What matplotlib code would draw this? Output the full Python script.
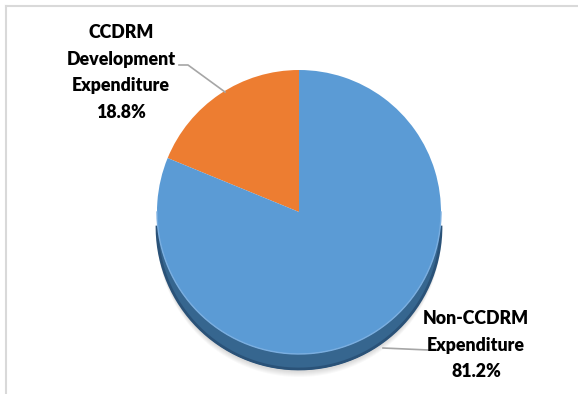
import numpy as np
import matplotlib
matplotlib.use("Agg")
import matplotlib.pyplot as plt
from matplotlib.lines import Line2D

# spending split
labels = ["CCDRM\nDevelopment\nExpenditure", "Non-CCDRM\nExpenditure"]
shares = [18.8, 81.2]
colors = ["#ed7d31", "#5b9bd5"]

W, H = 578, 394
fig = plt.figure(figsize=(W / 100, H / 100), dpi=100)
ax = fig.add_axes([0, 0, 1, 1])
ax.set_xlim(0, W)
ax.set_ylim(0, H)
ax.set_aspect("auto")
ax.axis("off")

cx, cy, r = 299, 182, 142
depth = 16

# side of the disc (only the lower half shows)
t = np.linspace(np.pi, 2 * np.pi, 200)
top_x = cx + r * np.cos(t)
top_y = cy + r * np.sin(t)
bx = np.concatenate([top_x, top_x[::-1]])
by = np.concatenate([top_y, top_y[::-1] - depth])
# soft shadow under the disc
for k in range(6):
    ax.fill(bx, by - 2 - k, color="#000000", alpha=0.025, lw=0, zorder=0)
ax.fill(bx, by, color="#36668f", lw=0, zorder=1)
ax.plot(top_x, top_y - depth + 1, color="#2a5278", lw=2, zorder=1)

wedges, _ = ax.pie(shares, colors=colors, startangle=90, counterclock=True,
                   center=(cx, cy), radius=r, frame=True,
                   wedgeprops=dict(linewidth=0))
for w in wedges:
    w.set_zorder(2)
ax.plot(top_x, top_y, color="#7aaee0", lw=1.0, zorder=3)
ax.set_xlim(0, W)
ax.set_ylim(0, H)
ax.axis("off")

font = dict(family=["Lato", "DejaVu Sans"], fontsize=12.8, fontweight="heavy",
            color="#000000", ha="center", va="center", linespacing=1.68)

# orange slice label with leader line
ax.text(121, H - 72.5, f"{labels[0]}\n{shares[0]}%", zorder=5, **font)
ax.plot([179, 188, 225], [H - 65, H - 65, H - 92], color="#a6a6a6", lw=1.2, zorder=4)

# blue slice label with leader line
ax.text(476, H - 345, f"{labels[1]}\n{shares[1]}%", zorder=5, **font)
ax.plot([383, 428], [H - 348, H - 350], color="#a6a6a6", lw=1.2, zorder=4)

# thin chart frame
fig.add_artist(Line2D([6 / W, 1], [1 - 6 / H, 1 - 6 / H], color="#d9d9d9", lw=1.5))
fig.add_artist(Line2D([6 / W, 6 / W], [0, 1 - 6 / H], color="#d9d9d9", lw=1.5))

fig.savefig("out.png", dpi=100, facecolor="white")
